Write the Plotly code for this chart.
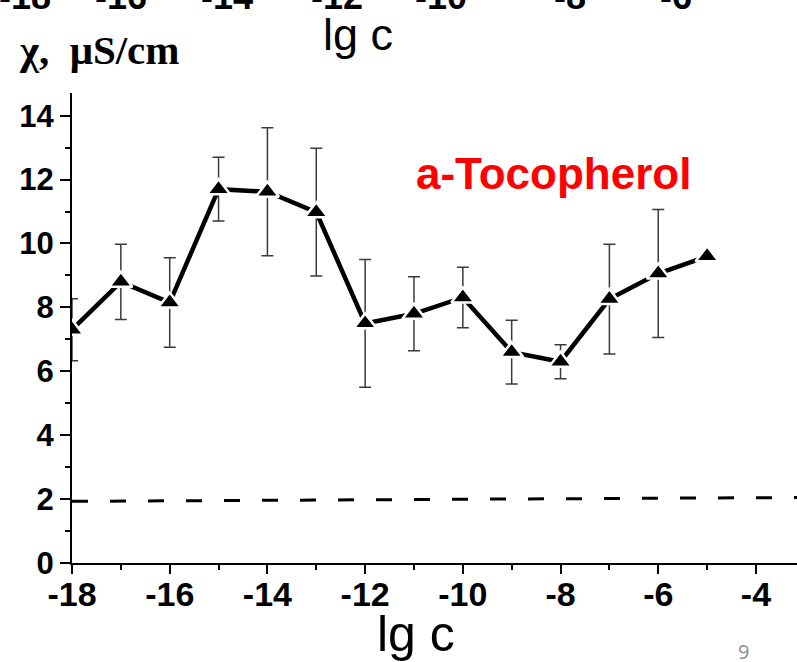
import plotly.graph_objects as go

# ---- data ----
lg_c = [-18, -17, -16, -15, -14, -13, -12, -11, -10, -9, -8, -7, -6, -5]
chi = [7.3, 8.8, 8.15, 11.7, 11.62, 10.98, 7.5, 7.8, 8.31, 6.6, 6.3, 8.26, 9.06, 9.6]
chi_err = [0.97, 1.18, 1.4, 1.0, 2.0, 2.0, 2.0, 1.16, 0.95, 1.0, 0.53, 1.72, 2.0, 0.0]
baseline_x = [-18, -3.16]
baseline_y = [1.93, 2.05]
x_ticks = [-18, -16, -14, -12, -10, -8, -6, -4]
y_ticks = [0, 2, 4, 6, 8, 10, 12, 14]
top_partial_labels = ["-18", "-16", "-14", "-12", "-10", "-8", "-6"]
top_partial_px = [25, 121, 227, 337, 441, 570, 676]

W, H = 797, 662
L, R, T, B = 72, 797, 93, 562.7


def px(x):
    return (x - L) / (R - L)


def py(y):
    return (B - y) / (B - T)


fig = go.Figure()

fig.add_trace(go.Scatter(
    x=baseline_x, y=baseline_y, mode="lines",
    line=dict(color="black", width=3, dash="16px,22px"),
    hoverinfo="skip", showlegend=False,
))

fig.add_trace(go.Scatter(
    x=lg_c, y=chi, mode="lines+markers",
    line=dict(color="black", width=4.5),
    marker=dict(symbol="triangle-up", size=20, color="black",
                line=dict(color="white", width=2.5)),
    error_y=dict(type="data", array=chi_err, visible=True,
                 color="#3a3a3a", thickness=1.5, width=6),
    showlegend=False,
))

font_b = dict(family="Liberation Sans, Arial, sans-serif", color="black", weight="bold")

fig.update_layout(
    width=W, height=H,
    margin=dict(l=L, r=W - R, t=T, b=H - B, pad=0),
    paper_bgcolor="white", plot_bgcolor="white",
    xaxis=dict(
        range=[-18, -3.16], tickmode="array", tickvals=x_ticks,
        ticktext=[str(v) for v in x_ticks],
        showgrid=False, zeroline=False,
        showline=True, linecolor="black", linewidth=2,
        ticks="outside", ticklen=9, tickwidth=2, tickcolor="black",
        minor=dict(dtick=1, ticks="outside", ticklen=5, tickwidth=1.5, tickcolor="black"),
        tickfont=dict(size=34, **font_b),
        ticklabelstandoff=-9,
    ),
    yaxis=dict(
        range=[0, 14.71], tickmode="array", tickvals=y_ticks,
        ticktext=[str(v) for v in y_ticks],
        showgrid=False, zeroline=False,
        showline=True, linecolor="black", linewidth=2,
        ticks="outside", ticklen=10, tickwidth=2, tickcolor="black",
        minor=dict(dtick=1, ticks="outside", ticklen=5, tickwidth=1.5, tickcolor="black"),
        tickfont=dict(size=31, **font_b),
    ),
)

ann = []
# bottom axis title
ann.append(dict(x=px(416), y=py(634), xref="paper", yref="paper", text="lg c",
                showarrow=False, xanchor="center", yanchor="middle",
                font=dict(family="Liberation Sans, Arial, sans-serif", size=50, color="black")))
# top axis title (from the chart above)
ann.append(dict(x=px(358), y=py(35), xref="paper", yref="paper", text="lg c",
                showarrow=False, xanchor="center", yanchor="middle",
                font=dict(family="Liberation Sans, Arial, sans-serif", size=45, color="black")))
# y axis title
ann.append(dict(x=px(17), y=py(50), xref="paper", yref="paper", text="χ,  μS/cm",
                showarrow=False, xanchor="left", yanchor="middle",
                font=dict(family="Liberation Serif, Times New Roman, serif", size=41,
                          color="black", weight="bold")))
# label
ann.append(dict(x=px(553), y=py(173), xref="paper", yref="paper", text="a-Tocopherol",
                showarrow=False, xanchor="center", yanchor="middle",
                font=dict(family="Liberation Sans, Arial, sans-serif", size=44,
                          color="#ff0000", weight="bold")))
# page number
ann.append(dict(x=px(743), y=py(651), xref="paper", yref="paper", text="9",
                showarrow=False, xanchor="center", yanchor="middle",
                font=dict(family="Open Sans, sans-serif", size=20, color="#8c8c8c")))
# cut-off tick labels of the chart above
for t, xp in zip(top_partial_labels, top_partial_px):
    ann.append(dict(x=px(xp), y=py(19), xref="paper", yref="paper", text=t,
                    showarrow=False, xanchor="center", yanchor="bottom",
                    font=dict(size=36, **font_b)))

fig.update_layout(annotations=ann)

fig.write_html("out.html")
